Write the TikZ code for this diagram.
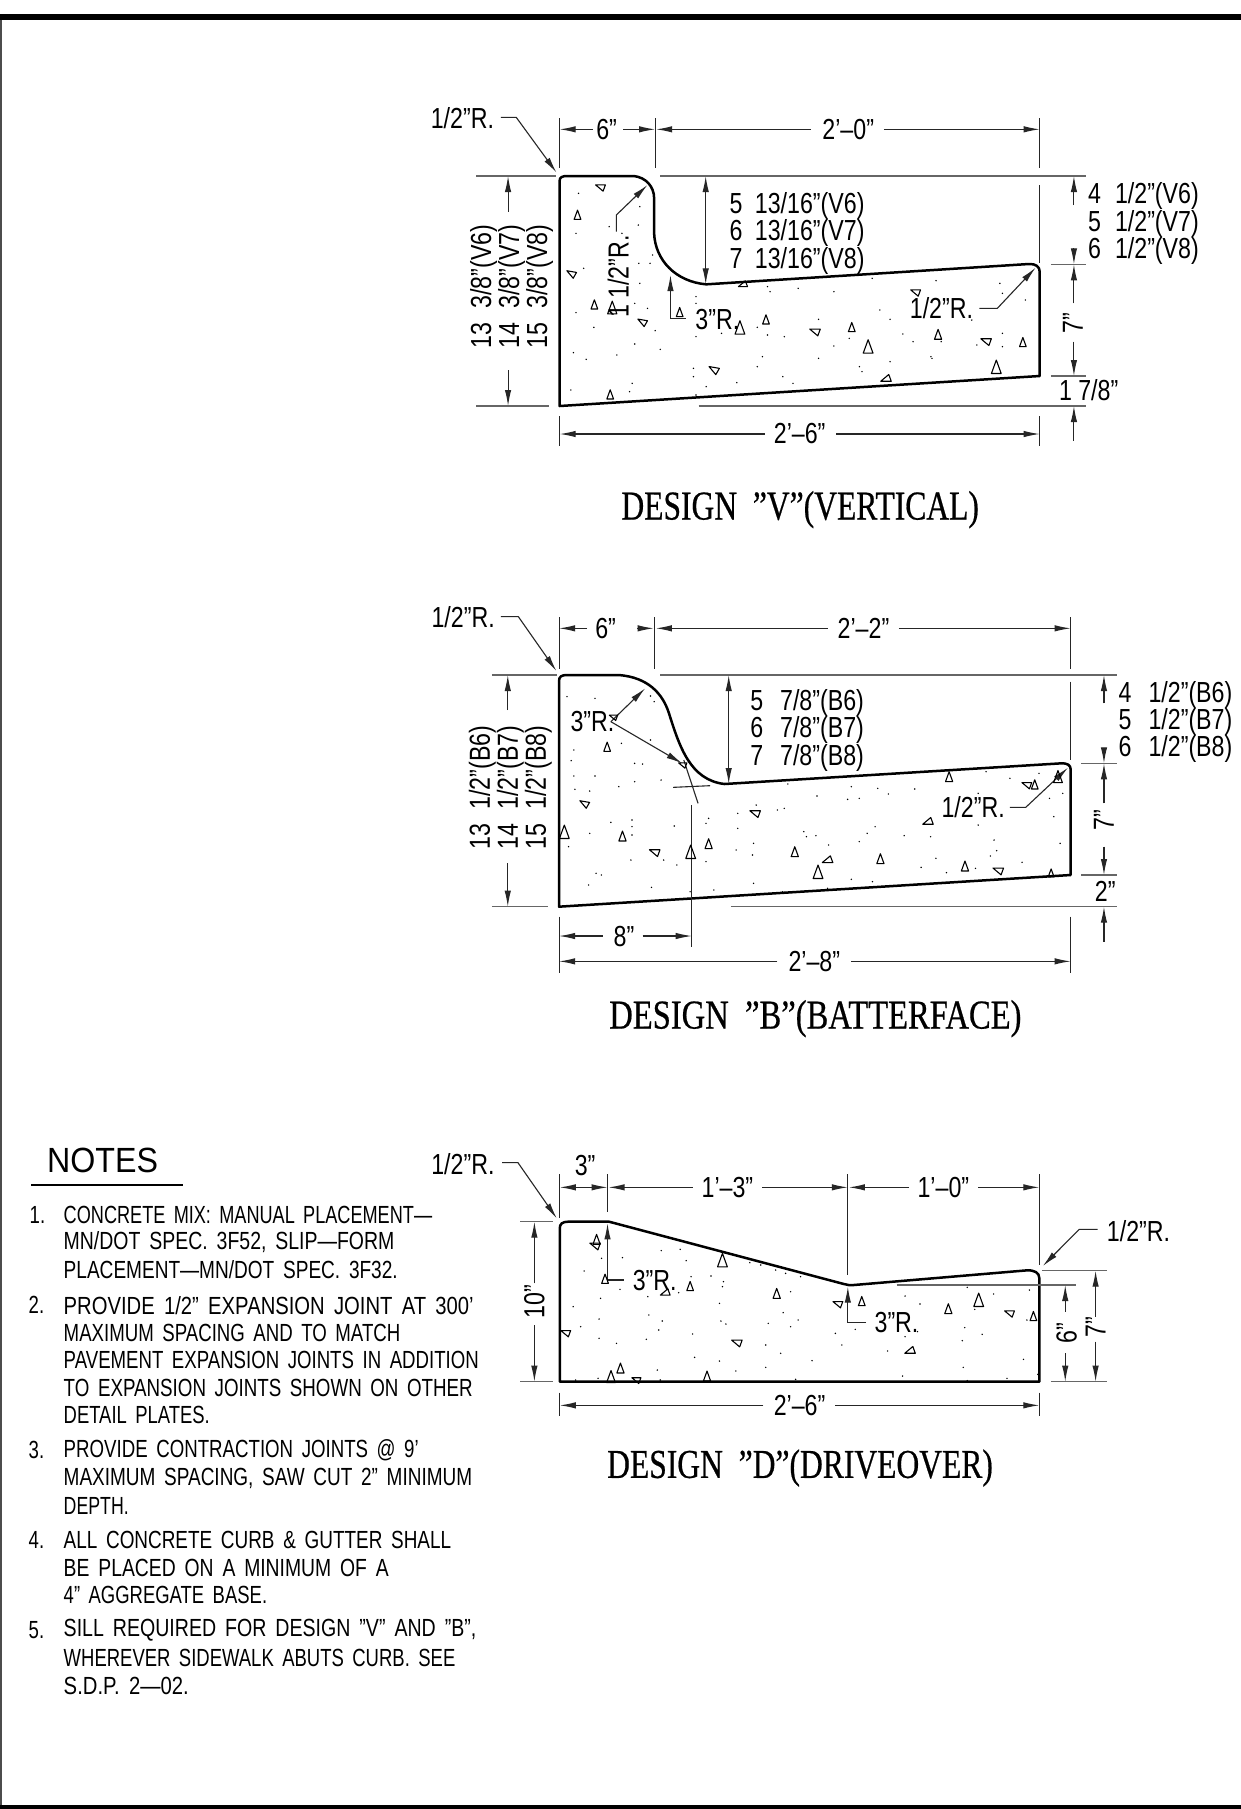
\documentclass[tikz,border=0pt]{standalone}
\usepackage{fontspec}
\usepackage{graphicx}
\usetikzlibrary{arrows.meta}
\newfontfamily\cadfont[FakeStretch=0.8]{Liberation Sans}
\newfontfamily\notefont[FakeStretch=0.75,WordSpace=1.65]{Liberation Sans}
\newfontfamily\headfont[FakeStretch=0.92]{Liberation Sans}
\newfontfamily\ttlfont[FakeStretch=0.77,FakeBold=0.5]{Liberation Serif}
\newfontfamily\ttlfontb[FakeStretch=0.795,FakeBold=0.5]{Liberation Serif}
\newcommand\gpa{\hspace{6.2pt}}
\newcommand\gpb{\hspace{8.5pt}}
\newcommand\gpc{\hspace{7pt}}
\newcommand\nw[2]{\resizebox{#1pt}{\height}{#2}}
\tikzset{
 dim/.style={draw=black!85,line width=.55pt},
 ext/.style={draw=black!60,line width=.6pt},
 arw/.style={-{Latex[length=8pt,width=3.2pt]}},
 barw/.style={{Latex[length=8pt,width=3.2pt]}-{Latex[length=8pt,width=3.2pt]}},
 curb/.style={draw=black,line width=1.25pt,line join=round},
 lbl/.style={inner sep=0pt,font=\cadfont\fontsize{14.5}{14.5}\selectfont},
 ttl/.style={inner sep=0pt,font=\ttlfont\fontsize{20.5}{20.5}\selectfont},
 ttlb/.style={inner sep=0pt,font=\ttlfontb\fontsize{20.5}{20.5}\selectfont},
 note/.style={inner sep=0pt,anchor=west,font=\notefont\fontsize{12.4}{12.4}\selectfont},
 agg/.style={draw=black,line width=.55pt,line join=round},
}
\newcommand\trione[4]{\draw[agg] ([shift={(#3:#4pt)}]#1,#2) -- ([shift={(#3+140:#4pt)}]#1,#2) -- ([shift={(#3-140:#4pt)}]#1,#2) -- cycle;}
\newcommand\trilist[1]{\foreach \X/\Y/\A/\S in {#1}{\trione{\X}{\Y}{\A}{\S}}}
\newcommand\dotlist[1]{\foreach \X/\Y in {#1}{\fill[black] (\X,\Y) circle[radius=.4pt];}}
\begin{document}
\begin{tikzpicture}[x=.5pt,y=-.5pt]
\useasboundingbox (0,0) rectangle (1241,1809);
\fill[white] (0,0) rectangle (1241,1809);
% frame
\fill[black] (0,14) rectangle (1241,20);
\fill[black] (0,1805) rectangle (1241,1809);
\fill[black!70] (0,20) rectangle (2,1805);

%%%%%%% DESIGN V
\begin{scope}[shift={(410,90)},x=.25536pt,y=-.16667pt]
\draw[curb] (293,272) .. controls (293,262) and (298,258) .. (308,258) -- (438,258)
 .. controls (462,262) and (478,290) .. (478,325) -- (478,430)
 .. controls (480,510) and (520,575) .. (580,583) -- (1212,522)
 .. controls (1225,521) and (1233,530) .. (1233,545) -- (1233,858) -- (293,948) -- cycle;
% extension lines
\foreach \X in {293,480,1233} \draw[dim] (\X,85) -- (\X,235);
\draw[ext] (130,258) -- (285,258) (490,258) -- (1323,258);
\draw[ext] (130,948) -- (272,948) (565,948) -- (1323,948);
\draw[ext] (1255,523) -- (1323,523) (1255,858) -- (1323,858);
\draw[dim] (1233,285) -- (1233,520);
\draw[dim] (293,978) -- (293,1068) (1233,978) -- (1233,1068);
% top dims
\draw[dim,arw] (358,118) -- (293,118);
\draw[dim,arw] (418,118) -- (480,118);
\draw[dim,arw] (785,118) -- (482,118);
\draw[dim,arw] (928,118) -- (1233,118);
\node[lbl] (v6top) at (385,118) {6”};
\node[lbl] (v20) at (858,118) {2’–0”};
% bottom
\draw[dim,arw] (695,1032) -- (293,1032);
\draw[dim,arw] (835,1032) -- (1233,1032);
\node[lbl] (v26) at (763,1032) {2’–6”};
% left
\draw[dim,arw] (192,365) -- (192,258);
\draw[dim,arw] (192,840) -- (192,948);
\node[lbl,rotate=90] (vl1) at (144,590) {13\gpc 3/8”(V6)};
\node[lbl,rotate=90] (vl2) at (199,590) {14\gpc 3/8”(V7)};
\node[lbl,rotate=90] (vl3) at (254,590) {15\gpc 3/8”(V8)};
% middle
\draw[dim,barw] (579,258) -- (579,583);
\node[lbl,anchor=west] (vm1) at (625,348) {5\gpa 13/16”(V6)};
\node[lbl,anchor=west] (vm2) at (625,430) {6\gpa 13/16”(V7)};
\node[lbl,anchor=west] (vm3) at (625,513) {7\gpa 13/16”(V8)};
% right
\draw[dim,arw] (1300,345) -- (1300,258);
\draw[dim,arw] (1300,475) -- (1300,523);
\draw[dim,arw] (1300,640) -- (1300,523);
\draw[dim,arw] (1300,755) -- (1300,858);
\draw[dim,arw] (1300,1052) -- (1300,948);
\node[lbl,rotate=90] (v7) at (1298,700) {7”};
\node[lbl,anchor=west] (vr1) at (1327,319) {4\gpc 1/2”(V6)};
\node[lbl,anchor=west] (vr2) at (1327,401) {5\gpc 1/2”(V7)};
\node[lbl,anchor=west] (vr3) at (1327,484) {6\gpc 1/2”(V8)};
\node[lbl,anchor=west] (v178) at (1270,900) {1~7/8”};
% leaders
\node[lbl,anchor=west] (vla) at (40,85) {1/2”R.};
\draw[dim,arw] (178,82) -- (208,82) -- (287,248);
\node[lbl,rotate=90] (vlb) at (408,560) {1~1/2”R.};
\draw[dim,arw] (404,425) -- (404,375) -- (465,285);
\node[lbl,anchor=west] (vlc) at (558,690) {3”R.};
\draw[dim,arw] (540,686) -- (510,686) -- (510,555);
\node[lbl,anchor=west] (vld) at (978,655) {1/2”R.};
\draw[dim,arw] (1115,655) -- (1150,655) -- (1225,533);
\node[ttl] (vttl) at (764,1259) {DESIGN~~”V”(VERTICAL)};
\trilist{373/290/160/2.6,328/376/90/2.6,316/550/150/2.6,361/645/90/2.6,396/655/90/3.6,455/695/150/2.6,528/668/90/2.6,646/715/90/3.8,697/690/90/2.6,793/723/160/2.8,865/713/90/2.6,897/772/90/3.8,1034/735/90/2.8,1128/752/160/2.8,1200/758/90/2.6,1148/833/90/3.8,932/868/200/2.8,595/838/150/2.8,392/915/90/2.6,990/605/160/2.6,652/585/200/2.4}
\dotlist{330/310,325/430,450/350,447/405,390/410,415/430,448/520,470/520,475/495,340/535,450/580,325/668,360/712,440/640,465/655,480/722,440/762,490/778,320/788,405/795,345/808,315/900,435/880,430/905,560/620,560/640,555/835,555/860,580/890,560/915,560/740,610/730,680/712,700/735,733/740,760/595,700/590,705/605,830/605,905/565,1030/572,1155/580,1160/610,1205/630,920/660,940/688,800/688,860/745,830/768,965/732,985/755,1040/755,1020/800,1110/765,1160/730,1160/770,690/800,800/805,680/830,730/860,750/880,640/878,880/830,885/845,1022/805,940/815,1100/690}
\end{scope}

%%%%%%% DESIGN B
\begin{scope}[shift={(410,590)},x=.26427pt,y=-.16667pt]
\draw[curb] (282,272) .. controls (282,260) and (287,255) .. (297,255) -- (395,255)
 .. controls (450,262) and (478,310) .. (490,370)
 .. controls (510,470) and (530,570) .. (595,582) -- (1232,520)
 .. controls (1243,519) and (1250,525) .. (1250,538) -- (1250,855) -- (282,950) -- cycle;
\foreach \X in {282,463,1250} \draw[dim] (\X,82) -- (\X,238);
\draw[ext] (155,255) -- (278,255) (473,255) -- (1337,255);
\draw[ext] (155,950) -- (262,950) (607,950) -- (1337,950);
\draw[ext] (1270,520) -- (1337,520) (1270,855) -- (1337,855);
\draw[dim] (1250,275) -- (1250,510);
\draw[dim] (282,980) -- (282,1150) (1250,980) -- (1250,1150);
\draw[dim] (533,645) -- (533,1072);
% top dims
\draw[dim,arw] (335,115) -- (282,115);
\draw[dim,arw] (430,115) -- (461,115);
\draw[dim,arw] (790,115) -- (465,115);
\draw[dim,arw] (925,115) -- (1250,115);
\node[lbl] (b6top) at (370,115) {6”};
\node[lbl] (b22) at (858,115) {2’–2”};
% bottom
\draw[dim,arw] (365,1038) -- (282,1038);
\draw[dim,arw] (440,1038) -- (533,1038);
\node[lbl] (b8) at (405,1038) {8”};
\draw[dim,arw] (695,1114) -- (282,1114);
\draw[dim,arw] (835,1114) -- (1250,1114);
\node[lbl] (b28) at (765,1114) {2’–8”};
% left
\draw[dim,arw] (185,360) -- (185,255);
\draw[dim,arw] (185,820) -- (185,950);
\node[lbl,rotate=90] (bl1) at (137,592) {13\gpc 1/2”(B6)};
\node[lbl,rotate=90] (bl2) at (190,592) {14\gpc 1/2”(B7)};
\node[lbl,rotate=90] (bl3) at (243,592) {15\gpc 1/2”(B8)};
% middle
\draw[dim,barw] (603,255) -- (603,582);
\node[lbl,anchor=west] (bm1) at (643,340) {5\gpb 7/8”(B6)};
\node[lbl,anchor=west] (bm2) at (643,421) {6\gpb 7/8”(B7)};
\node[lbl,anchor=west] (bm3) at (643,503) {7\gpb 7/8”(B8)};
% right
\draw[dim,arw] (1313,340) -- (1313,255);
\draw[dim,arw] (1313,475) -- (1313,520);
\draw[dim,arw] (1313,640) -- (1313,520);
\draw[dim,arw] (1313,770) -- (1313,855);
\draw[dim,arw] (1313,1055) -- (1313,950);
\node[lbl,rotate=90] (b7) at (1313,690) {7”};
\node[lbl,anchor=west] (br1) at (1340,315) {4\gpb 1/2”(B6)};
\node[lbl,anchor=west] (br2) at (1340,397) {5\gpb 1/2”(B7)};
\node[lbl,anchor=west] (br3) at (1340,478) {6\gpb 1/2”(B8)};
\node[lbl,anchor=west] (b2) at (1295,905) {2”};
% construction
\draw[dim] (498,592) -- (568,587);
\draw[dim] (518,510) -- (545,640);
% leaders
\node[lbl,anchor=west] (bla) at (40,82) {1/2”R.};
\draw[dim,arw] (172,80) -- (205,80) -- (277,243);
\node[lbl,anchor=west] (blb) at (303,395) {3”R.};
\draw[dim,arw] (380,395) -- (445,295);
\draw[dim,arw] (380,395) -- (515,520);
\node[lbl,anchor=west] (blc) at (1005,652) {1/2”R.};
\draw[dim,arw] (1135,652) -- (1165,652) -- (1245,533);
\node[ttlb] (bttl) at (767,1286) {DESIGN~~”B”(BATTERFACE)};
\trilist{385/380/160/2.2,516/523/160/2.2,373/472/90/2.6,330/640/150/2.6,292/728/90/3.8,402/740/90/2.8,463/785/160/2.8,531/788/90/3.8,565/763/90/2.8,653/668/160/2.8,728/787/90/2.8,790/812/200/2.8,772/848/90/3.8,890/808/90/2.8,980/697/200/2.8,1020/562/90/2.8,1050/830/90/2.8,1113/840/160/2.8,1167/583/160/2.6,1182/585/90/2.6,1226/562/90/3.4,1213/850/90/2.2}
\dotlist{297/320,350/325,455/318,462/335,310/480,305/512,400/460,455/450,475/570,425/520,440/522,350/558,310/558,395/590,425/575,340/603,312/598,420/690,380/697,340/730,500/708,420/710,300/770,418/810,480/810,505/825,352/850,362/855,338/885,457/892,420/735,530/905,575/900,650/880,705/905,790/895,875/875,835/868,565/685,560/700,620/670,655/645,695/660,708/655,715/582,620/715,650/760,617/780,648/795,560/815,745/725,750/740,768/737,792/765,865/730,880/710,935/737,985/740,850/755,770/618,828/628,850/625,885/595,835/590,905/612,955/597,1090/545,1135/565,1190/550,1075/610,1075/705,1105/750,1110/782,1098/798,995/805,967/832,1015/848,1070/835,1158/817,1230/760,1235/610,1218/680,1210/625}
\end{scope}

%%%%%%% DESIGN D
\begin{scope}[shift={(410,1130)},x=.24876pt,y=-.16667pt]
\draw[curb] (301,295) .. controls (301,282) and (306,275) .. (318,275) -- (400,275)
 -- (872,462) .. controls (878,465) and (885,466) .. (892,465) -- (1240,421)
 .. controls (1255,420) and (1265,428) .. (1265,445) -- (1265,755) -- (301,755) -- cycle;
\draw[dim] (301,132) -- (301,265) (397,132) -- (397,245) (880,132) -- (880,435) (1265,132) -- (1265,405);
\draw[ext] (222,275) -- (288,275) (222,755) -- (288,755);
\draw[ext] (1270,422) -- (1400,422) (978,465) -- (1338,465) (1288,755) -- (1400,755);
\draw[dim] (301,788) -- (301,858) (1265,788) -- (1265,858);
% top dims
\draw[dim,barw] (301,172) -- (397,172);
\node[lbl] (d3) at (352,108) {3”};
\draw[dim,arw] (568,172) -- (399,172);
\draw[dim,arw] (708,172) -- (880,172);
\node[lbl] (d13) at (638,172) {1’–3”};
\draw[dim,arw] (1003,172) -- (882,172);
\draw[dim,arw] (1142,172) -- (1265,172);
\node[lbl] (d10) at (1072,172) {1’–0”};
% left
\draw[dim,arw] (250,460) -- (250,275);
\draw[dim,arw] (250,585) -- (250,755);
\node[lbl,rotate=90] (dh10) at (250,515) {10”};
% right
\draw[dim,arw] (1317,545) -- (1317,465);
\draw[dim,arw] (1317,670) -- (1317,755);
\node[lbl,rotate=90] (dh6) at (1320,610) {6”};
\draw[dim,arw] (1378,560) -- (1378,422);
\draw[dim,arw] (1378,635) -- (1378,755);
\node[lbl,rotate=90] (dh7) at (1378,590) {7”};
% bottom
\draw[dim,arw] (710,826) -- (301,826);
\draw[dim,arw] (855,826) -- (1265,826);
\node[lbl] (d26) at (783,826) {2’–6”};
% leaders
\node[lbl,anchor=west] (dla) at (42,102) {1/2”R.};
\draw[dim,arw] (185,98) -- (217,98) -- (295,265);
\node[lbl,anchor=west] (dlb) at (1400,302) {1/2”R.};
\draw[dim,arw] (1382,298) -- (1345,298) -- (1272,408);
\node[lbl,anchor=west] (dlc) at (447,450) {3”R.};
\draw[dim,arw] (430,450) -- (397,450) -- (397,280);
\node[lbl,anchor=west] (dld) at (933,577) {3”R.};
\draw[dim,arw] (917,577) -- (880,577) -- (880,470);
\node[ttl] (dttl) at (784,1014) {DESIGN~~”D”(DRIVEOVER)};
\trilist{375/330/90/2.8,372/345/160/2.8,628/393/90/3.8,392/448/90/2.6,513/490/200/2.6,563/470/90/2.6,737/492/90/2.8,860/520/160/2.6,908/515/90/2.6,1082/538/90/2.8,1143/512/90/3.8,1205/548/160/2.6,1253/560/90/2.6,313/607/160/2.6,657/636/160/2.8,1005/664/200/2.8,423/716/90/2.8,404/742/90/3.4,455/748/160/2.4,597/740/90/2.8}
\dotlist{385/385,427/383,505/362,543/358,555/392,350/423,422/478,478/500,540/488,565/440,605/438,630/455,628/470,683/398,705/405,735/420,755/430,785/440,765/485,622/520,750/548,328/530,383/505,480/555,380/567,343/590,507/573,500/600,625/573,635/582,720/580,765/590,780/570,380/625,415/640,475/628,568/612,715/645,745/670,622/693,572/682,497/720,655/723,715/712,808/692,855/610,868/645,895/598,960/663,995/620,1020/605,1025/522,995/498,1120/472,1173/492,1135/538,1245/480,1240/570,1115/593,1150/613,1110/632,1233/688,1112/712,1262/733,990/738,775/748,1200/745,1120/752,503/750,378/745,333/750}
\end{scope}

%%%%%%% NOTES
\begin{scope}[shift={(0,1120)},x=.16667pt,y=-.19135pt]
\node[inner sep=0pt,anchor=west,font=\headfont\fontsize{17.5}{17.5}\selectfont] (nhead) at (140,105) {NOTES};
\draw[line width=1.2pt] (93,170) -- (550,170);
\node[note] (n1) at (88,248) {1.};
\node[note] (n1a) at (190,248) {\nw{184.2}{CONCRETE MIX: MANUAL PLACEMENT—}};
\node[note] (n1b) at (190,320) {\nw{165.3}{MN/DOT SPEC. 3F52, SLIP—FORM}};
\node[note] (n1c) at (190,392) {\nw{167}{PLACEMENT—MN/DOT SPEC. 3F32.}};
\node[note] (n2) at (85,484) {2.};
\node[note] (n2a) at (190,484) {\nw{205}{PROVIDE 1/2” EXPANSION JOINT AT 300’}};
\node[note] (n2b) at (190,556) {\nw{168.3}{MAXIMUM SPACING AND TO MATCH}};
\node[note] (n2c) at (190,628) {\nw{207.5}{PAVEMENT EXPANSION JOINTS IN ADDITION}};
\node[note] (n2d) at (190,700) {\nw{204.5}{TO EXPANSION JOINTS SHOWN ON OTHER}};
\node[note] (n2e) at (190,772) {\nw{73}{DETAIL PLATES.}};
\node[note] (n3) at (85,862) {3.};
\node[note] (n3a) at (190,862) {\nw{177.5}{PROVIDE CONTRACTION JOINTS @ 9’}};
\node[note] (n3b) at (190,936) {\nw{204.2}{MAXIMUM SPACING, SAW CUT 2” MINIMUM}};
\node[note] (n3c) at (190,1008) {\nw{32.5}{DEPTH.}};
\node[note] (n4) at (85,1098) {4.};
\node[note] (n4a) at (190,1098) {\nw{193.7}{ALL CONCRETE CURB \& GUTTER SHALL}};
\node[note] (n4b) at (190,1170) {\nw{162.5}{BE PLACED ON A MINIMUM OF A}};
\node[note] (n4c) at (190,1242) {\nw{101.7}{4” AGGREGATE BASE.}};
\node[note] (n5) at (85,1332) {5.};
\node[note] (n5a) at (190,1332) {\nw{206.3}{SILL REQUIRED FOR DESIGN ”V” AND ”B”,}};
\node[note] (n5b) at (190,1405) {\nw{195.8}{WHEREVER SIDEWALK ABUTS CURB. SEE}};
\node[note] (n5c) at (190,1478) {\nw{62.5}{S.D.P. 2—02.}};
\end{scope}
\end{tikzpicture}
\end{document}
